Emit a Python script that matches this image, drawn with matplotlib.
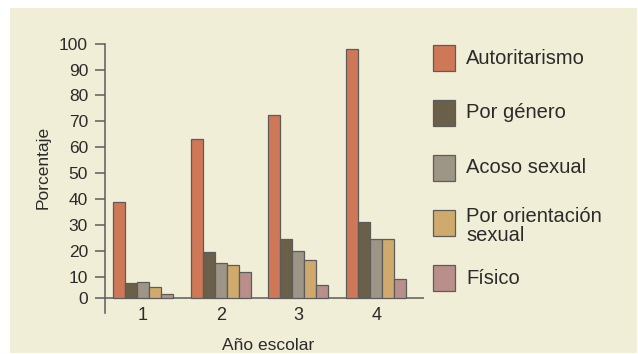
import matplotlib.pyplot as plt
from matplotlib.patches import Rectangle
import numpy as np

plt.rcParams['font.family'] = ['Liberation Sans', 'DejaVu Sans']

# datos
anios = ['1', '2', '3', '4']
series = ['Autoritarismo', 'Por género', 'Acoso sexual', 'Por orientación\nsexual', 'Físico']
autoritarismo = [39, 63, 72.5, 98]
por_genero = [7, 19.5, 24.5, 31]
acoso_sexual = [7.5, 15.3, 20, 24.5]
orientacion = [5, 14.4, 16.4, 24.5]
fisico = [2, 11.7, 6.1, 8.9]
valores = [autoritarismo, por_genero, acoso_sexual, orientacion, fisico]
colores = ['#cf7857', '#6a5f48', '#9d9585', '#cfaa6c', '#b88f8b']
yticks = [0, 10, 20, 30, 40, 50, 60, 70, 80, 90, 100]

texto = '#2b2b2b'
borde = '#5c5c5c'
crema = '#f0eed6'

W, H = 638, 354
fig = plt.figure(figsize=(W / 100, H / 100), dpi=100, facecolor='white')
# fondo crema (con margen blanco arriba e izquierda)
fig.patches.append(Rectangle((10 / W, 1 / H), 627 / W, 345 / H,
                             transform=fig.transFigure, facecolor=crema,
                             edgecolor='none', zorder=-10))

# ejes en pixeles: izquierda 105, derecha 424, arriba 43.7, abajo 313
ax = fig.add_axes([105 / W, (H - 313) / H, 319 / W, (313 - 43.7) / H])
ax.set_facecolor('none')


# la escala del eje y esta comprimida entre 0 y 10
def fwd(v):
    v = np.asarray(v, dtype=float)
    return np.where(v < 10, v * 0.82, 8.2 + (v - 10))


def inv(t):
    t = np.asarray(t, dtype=float)
    return np.where(t < 8.2, t / 0.82, 10 + (t - 8.2))


ax.set_yscale('function', functions=(fwd, inv))

x = np.arange(1, 5)
ancho = 0.154
for i, (vals, c) in enumerate(zip(valores, colores)):
    ax.bar(x + (i - 2) * ancho, vals, ancho, color=c, edgecolor=borde,
           linewidth=0.9, zorder=3)

ax.set_ylim(-7.1, 100)
ax.set_xlim(0.513, 4.615)
ax.axhline(0, color=borde, linewidth=1.1, zorder=2)

for s in ['top', 'right', 'bottom']:
    ax.spines[s].set_visible(False)
ax.spines['left'].set_color(borde)
ax.spines['left'].set_linewidth(1.1)

ax.set_yticks(yticks)
ax.set_yticklabels([str(t) for t in yticks])
ax.tick_params(axis='y', direction='out', length=7.2, width=1.1, color=borde,
               labelsize=12.5, labelcolor=texto, pad=5)
ax.set_xticks(x)
ax.set_xticklabels(anios)
ax.tick_params(axis='x', length=0, labelsize=13, labelcolor=texto, pad=-4)
ax.minorticks_off()

ax.set_xlabel('Año escolar', fontsize=12.5, color=texto, va='center')
ax.xaxis.set_label_coords(0.51, -0.119)
ax.set_ylabel('Porcentaje', fontsize=12.5, color=texto, va='center')
ax.yaxis.set_label_coords(-0.194, 0.54)

# leyenda dibujada a mano
centros = [58, 113, 168, 223, 278]
for lab, c, yc in zip(series, colores, centros):
    fig.patches.append(Rectangle((433 / W, (H - yc - 13) / H), 22 / W, 26 / H,
                                 transform=fig.transFigure, facecolor=c,
                                 edgecolor=borde, linewidth=0.9))
    dy = 3 if '\n' in lab else 0
    fig.text(466 / W, (H - yc - dy) / H, lab, fontsize=14.5, color=texto,
             va='center', ha='left', linespacing=0.95)

fig.savefig('out.png', dpi=100, facecolor=fig.get_facecolor())
